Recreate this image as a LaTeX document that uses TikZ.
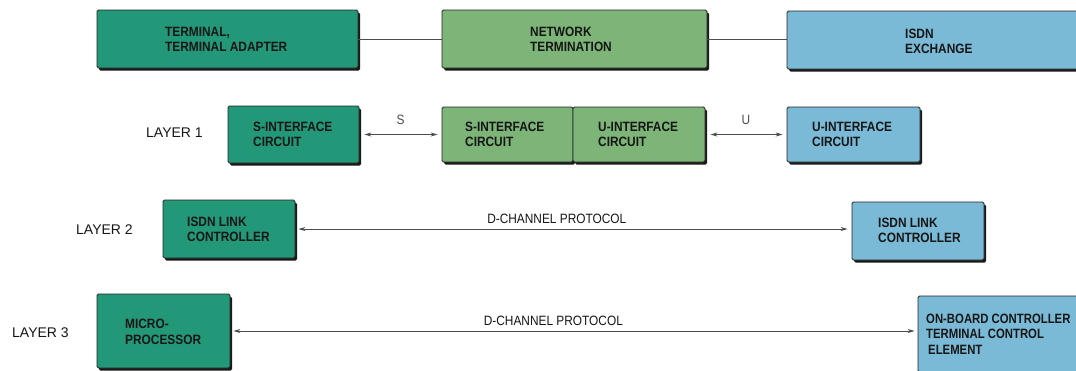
\documentclass[tikz,border=0pt]{standalone}
\usepackage{fontspec}
\newfontfamily\bxf{Liberation Sans}[FakeStretch=0.88]
\newfontfamily\bxn{Liberation Sans}[FakeStretch=0.84]
\newfontfamily\lyf{Liberation Sans}
\usetikzlibrary{shadows,arrows.meta}
\definecolor{tealc}{RGB}{35,152,120}
\definecolor{greenc}{RGB}{125,180,120}
\definecolor{bluec}{RGB}{122,186,214}
\definecolor{inkc}{RGB}{22,22,22}
\begin{document}
\begin{tikzpicture}[x=1pt,y=-1pt,
  blk/.style={draw=black!85, line width=0.8pt, rounded corners=1.5pt, inner sep=0pt,
    drop shadow={shadow xshift=2pt,shadow yshift=-2.5pt,fill=black!90,opacity=1}},
  txt/.style={font=\bxf\bfseries\fontsize{13.5}{15.5}\selectfont, align=left, anchor=west, inner sep=0pt, text=inkc},
  lay/.style={font=\lyf\fontsize{14}{16}\selectfont, anchor=west, inner sep=0pt, text=inkc},
  conn/.style={draw=black!70, line width=0.9pt},
  arr/.style={conn, {Stealth[length=7pt,width=4pt]}-{Stealth[length=7pt,width=4pt]}},
  lbl/.style={font=\bxf\fontsize{13.5}{15}\selectfont, inner sep=0pt, text=inkc}
]
\useasboundingbox (0,0) rectangle (1076,370);
\fill[white] (0,0) rectangle (1076,370);

% top row
\node[blk, fill=tealc, minimum width=261pt, minimum height=58pt] (T) at (227.5,39) {};
\node[blk, fill=greenc, minimum width=265pt, minimum height=58pt] (NT) at (574.5,39) {};
\node[blk, fill=bluec, minimum width=303pt, minimum height=58pt] (EX) at (938.5,40) {};
\node[txt] (tT) at (165,39.5) {TERMINAL,\\TERMINAL ADAPTER};
\node[txt] (tNT) at (530,39.5) {NETWORK\\TERMINATION};
\node[txt] (tEX) at (905,41.5) {ISDN\\EXCHANGE};
\draw[conn] (T.east) -- (T.east -| NT.west);
\draw[conn] (NT.east) -- (NT.east -| EX.west);

% layer 1
\node[lay] (L1) at (146,133) {LAYER 1};
\node[blk, fill=tealc, minimum width=131pt, minimum height=57pt] (S1) at (293.5,134.5) {};
\node[blk, fill=greenc, minimum width=131pt, minimum height=55pt] (NS) at (507.5,134.5) {};
\node[blk, fill=greenc, minimum width=132pt, minimum height=55pt] (NU) at (639,134.5) {};
\node[blk, fill=bluec, minimum width=133pt, minimum height=55pt] (U1) at (853.5,134.5) {};
\node[txt] (tS1) at (253,134.5) {S-INTERFACE\\CIRCUIT};
\node[txt] (tNS) at (465,134.5) {S-INTERFACE\\CIRCUIT};
\node[txt] (tNU) at (598,134.5) {U-INTERFACE\\CIRCUIT};
\node[txt] (tU1) at (812,134.5) {U-INTERFACE\\CIRCUIT};
\draw[arr, shorten <=5pt, shorten >=4pt] (S1.east) -- (S1.east -| NS.west)
  node[lbl, midway, above=9pt, text=black!70] (sl) {S};
\draw[arr, shorten <=5pt, shorten >=4pt] (NU.east) -- (NU.east -| U1.west)
  node[lbl, midway, above=9pt, text=black!70] (ul) {U};

% layer 2
\node[lay] (L2) at (76,230) {LAYER 2};
\node[blk, fill=tealc, minimum width=132pt, minimum height=58pt] (A2) at (229,229) {};
\node[blk, fill=bluec, minimum width=132pt, minimum height=58pt] (B2) at (918,231) {};
\node[txt] (tA2) at (187,229.5) {ISDN LINK\\CONTROLLER};
\node[txt] (tB2) at (878,230.5) {ISDN LINK\\CONTROLLER};
\draw[arr, shorten <=3pt, shorten >=4pt] (A2.east) -- (A2.east -| B2.west)
  node[lbl, pos=0.47, above=5pt] (d2) {D-CHANNEL PROTOCOL};

% layer 3
\node[lay] (L3) at (12,333) {LAYER 3};
\node[blk, fill=tealc, minimum width=133pt, minimum height=74pt] (A3) at (163.5,331) {};
\node[blk, fill=bluec, minimum width=172pt, minimum height=76pt] (B3) at (1004,334) {};
\node[txt] (tA3) at (125,332) {MICRO-\\PROCESSOR};
\node[txt, font=\bxn\bfseries\fontsize{13.5}{15.5}\selectfont] (tB3) at (926,334) {ON-BOARD CONTROLLER\\TERMINAL CONTROL\\\hspace{2pt}ELEMENT};
\draw[arr, shorten <=3pt, shorten >=3pt] (A3.east) -- (A3.east -| B3.west)
  node[lbl, pos=0.47, above=5pt] (d3) {D-CHANNEL PROTOCOL};
\end{tikzpicture}
\end{document}
